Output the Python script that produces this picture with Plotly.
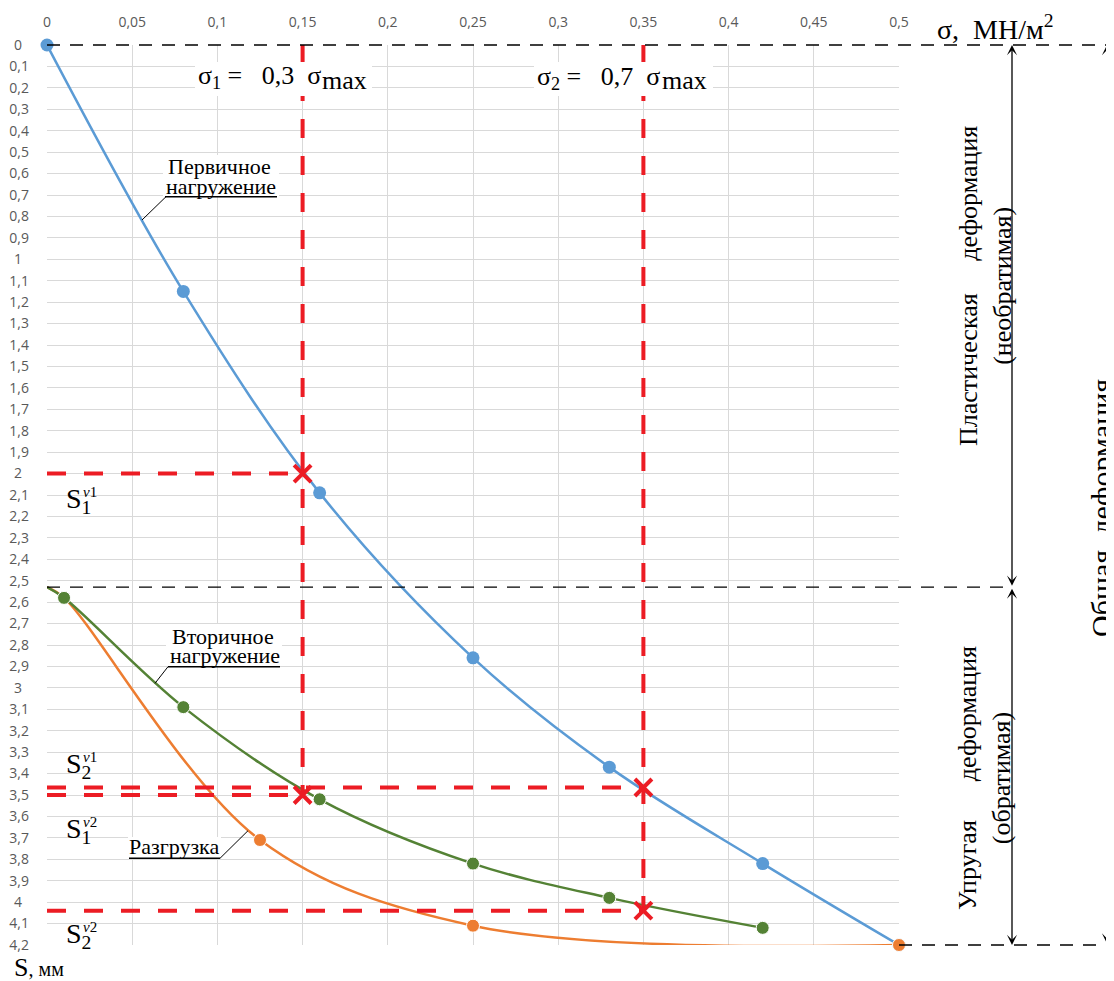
import plotly.graph_objects as go

# ---------------- data ----------------
x_tick_vals = [0, 0.05, 0.1, 0.15, 0.2, 0.25, 0.3, 0.35, 0.4, 0.45, 0.5]
x_tick_text = ["0", "0,05", "0,1", "0,15", "0,2", "0,25", "0,3", "0,35", "0,4", "0,45", "0,5"]
y_tick_vals = [round(i * 0.1, 1) for i in range(43)]
y_tick_text = [(f"{v:g}".replace(".", ",") if v != int(v) else f"{int(v)}\u2002") for v in y_tick_vals]

# primary loading (Первичное нагружение)
primary_sigma = [0, 0.08, 0.16, 0.25, 0.33, 0.42, 0.5]
primary_s = [0, 1.15, 2.09, 2.86, 3.37, 3.82, 4.2]

# secondary loading (Вторичное нагружение)
secondary_sigma = [0, 0.01, 0.08, 0.16, 0.25, 0.33, 0.42]
secondary_s = [2.53, 2.58, 3.09, 3.52, 3.82, 3.98, 4.12]
secondary_marker = [0, 13, 13, 13, 13, 13, 13]

# unloading (Разгрузка)
unload_sigma = [0, 0.01, 0.125, 0.25, 0.5]
unload_s = [2.53, 2.58, 3.71, 4.11, 4.2]
unload_marker = [0, 0, 13, 13, 13]

# reference levels
sigma_1 = 0.15   # 0.3 sigma_max
sigma_2 = 0.35   # 0.7 sigma_max
s1_nu1 = 2.0
s2_nu1 = 3.465
s1_nu2 = 3.50
s2_nu2 = 4.04
s_plastic = 2.53
s_total = 4.2
sigma_end = 0.5

# ---------------- layout geometry ----------------
OFF = 8                      # page offset of the figure (body margin)
FW, FH = 1114, 981
PL, PT = 47, 45              # plot area left/top in page pixels
W, H = 852, 900              # plot area size
L, T = PL - OFF, PT - OFF
R = FW - L - W
B = FH - T - H
XR = [0, sigma_end]
YR = [s_total, 0]


def px_x(px):      # page px -> paper x
    return (px - PL) / W


def px_y(py):      # page px -> paper y
    return 1 - (py - PT) / H


def dx(px):        # page px -> data x
    return (px - PL) / W * (XR[1] - XR[0])


def dy(py):        # page px -> data y
    return (py - PT) / H * s_total


def yp(v):
    return 1 - v / s_total


BLUE = "#5B9BD5"
GREEN = "#548235"
ORANGE = "#ED7D31"
RED = "#EC1C24"
SERIF = "Liberation Serif"
NB = "\u00a0"

fig = go.Figure()

fig.add_trace(go.Scatter(
    x=primary_sigma, y=primary_s, mode="lines+markers",
    line=dict(color=BLUE, width=2.5, shape="spline", smoothing=1.0),
    marker=dict(color=BLUE, size=13, opacity=1), cliponaxis=False))
fig.add_trace(go.Scatter(
    x=unload_sigma, y=unload_s, mode="lines+markers",
    line=dict(color=ORANGE, width=2.5, shape="spline", smoothing=1.0),
    marker=dict(color=ORANGE, size=unload_marker, opacity=1), cliponaxis=False))
fig.add_trace(go.Scatter(
    x=secondary_sigma, y=secondary_s, mode="lines+markers",
    line=dict(color=GREEN, width=2.5, shape="spline", smoothing=1.0),
    marker=dict(color=GREEN, size=secondary_marker, opacity=1), cliponaxis=False))

# red dashed construction lines
red_segments = [
    ([0, sigma_1], [s1_nu1, s1_nu1]),
    ([0, sigma_1], [s1_nu2, s1_nu2]),
    ([0, sigma_2], [s2_nu1, s2_nu1]),
    ([0, sigma_2], [s2_nu2, s2_nu2]),
    ([sigma_1, sigma_1], [0, s1_nu2]),
    ([sigma_2, sigma_2], [0, s2_nu2]),
]
for xs, ys in red_segments:
    fig.add_trace(go.Scatter(x=xs, y=ys, mode="lines",
                             line=dict(color=RED, width=4, dash="19px,18px")))

# red cross markers
fig.add_trace(go.Scatter(
    x=[sigma_1, sigma_1, sigma_2, sigma_2],
    y=[s1_nu1, s1_nu2, s2_nu1, s2_nu2],
    mode="markers",
    marker=dict(symbol="x-thin", size=17, line=dict(color=RED, width=4)),
    cliponaxis=False))

shapes = []

# white text boxes (hide grid / dashed lines behind labels)
def white_box(x0, x1, y0, y1):
    shapes.append(dict(type="rect", xref="x", yref="y", x0=dx(x0), x1=dx(x1),
                       y0=dy(y0), y1=dy(y1), fillcolor="white",
                       line=dict(width=0), layer="above"))

white_box(195, 372, 62, 96)
white_box(534, 713, 62, 96)
white_box(163, 279, 155, 196)
white_box(166, 282, 624, 666)
white_box(128, 221, 837, 858)

# black dashed horizontal lines
dash_black = dict(color="black", width=1.3, dash="13px,10px")
shapes.append(dict(type="line", xref="paper", yref="paper", x0=0, x1=px_x(FW + 20),
                   y0=yp(0), y1=yp(0), line=dash_black))
shapes.append(dict(type="line", xref="paper", yref="paper", x0=0, x1=px_x(1012),
                   y0=yp(s_plastic), y1=yp(s_plastic), line=dash_black))
shapes.append(dict(type="line", xref="paper", yref="paper", x0=1, x1=px_x(FW + 20),
                   y0=yp(s_total), y1=yp(s_total), line=dash_black))

# callout underlines + leaders
def callout(ux0, ux1, uy, lx, ly, lx0):
    shapes.append(dict(type="line", xref="x", yref="y", x0=dx(ux0), x1=dx(ux1),
                       y0=dy(uy), y1=dy(uy), line=dict(color="black", width=1.5),
                       layer="above"))
    shapes.append(dict(type="line", xref="x", yref="y", x0=dx(lx0), x1=dx(lx),
                       y0=dy(uy), y1=dy(ly), line=dict(color="black", width=1),
                       layer="above"))

callout(165, 277, 196.7, 142, 220, 166)
callout(168, 280, 666.7, 155, 683.3, 168)
callout(129, 220, 858.3, 248, 830.7, 220)

annotations = []


def txt(text, x, y, size, xref="x", yref="y", xanchor="center", yanchor="middle",
        angle=0, color="black"):
    annotations.append(dict(text=text, x=x, y=y, xref=xref, yref=yref,
                            xanchor=xanchor, yanchor=yanchor, showarrow=False,
                            borderpad=0, textangle=angle,
                            font=dict(family=SERIF, size=size, color=color)))


# sigma labels
txt(f"σ<sub>1</sub>{NB}={NB*3}0,3{NB*2}σ", dx(197), dy(76.5), 26, xanchor="left")
txt("max", dx(321), dy(80.5), 26, xanchor="left")
txt(f"σ<sub>2</sub>{NB}={NB*3}0,7{NB*2}σ", dx(536), dy(78), 26, xanchor="left")
txt("max", dx(661), dy(80.5), 26, xanchor="left")

# axis titles
txt(f"σ,{NB*2}МН/м<sup>2</sup>", px_x(936), px_y(28), 28, xref="paper", yref="paper",
    xanchor="left")
txt("S<span style='font-size:20px'>, мм</span>", px_x(13), px_y(967), 26,
    xref="paper", yref="paper", xanchor="left")

# callout texts
txt("Первичное", dx(219), dy(166), 22)
txt("нагружение", dx(220.5), dy(186), 22)
txt("Вторичное", dx(222.5), dy(636), 22)
txt("нагружение", dx(224.5), dy(655), 22)
txt("Разгрузка", dx(174), dy(846), 22)

# S labels
for s_sub, sup, ys in [("1", "1", 500), ("2", "1", 765), ("1", "2", 830), ("2", "2", 935)]:
    txt(f"S<sub>{s_sub}</sub>", dx(65), dy(ys), 28, xanchor="left")
    txt(f"<i>ν</i>{sup}", dx(82), dy(ys - 8), 15, xanchor="left")

# right side texts
txt(f"Пластическая{NB*5}деформация<br>(необратимая)", px_x(985), px_y(286), 26,
    xref="paper", yref="paper", angle=-90)
txt(f"Упругая{NB*6}деформация<br>(обратимая)", px_x(984), px_y(778), 26,
    xref="paper", yref="paper", angle=-90)
txt(f"Общая{NB*2}деформация", px_x(1101), px_y(508), 30,
    xref="paper", yref="paper", angle=-90)

# right side arrows
for xpx, y_head, y_tail in [(1012, 0, s_plastic), (1012, s_total, s_plastic), (1107, 0, s_total)]:
    annotations.append(dict(text="", x=px_x(xpx), xref="paper", y=y_head, yref="y",
                            ax=0, axref="pixel", ay=y_tail, ayref="y",
                            showarrow=True, arrowside="end+start", arrowhead=3,
                            arrowsize=1.3, arrowwidth=1.3, arrowcolor="black"))

fig.update_layout(
    width=FW, height=FH,
    margin=dict(l=L, r=R, t=T, b=B, autoexpand=False),
    paper_bgcolor="white", plot_bgcolor="white",
    showlegend=False,
    shapes=shapes, annotations=annotations,
    xaxis=dict(range=XR, side="top", tickvals=x_tick_vals, ticktext=x_tick_text,
               showgrid=True, gridcolor="#D9D9D9", gridwidth=1, zeroline=False,
               showline=False, ticks="", ticklabelstandoff=14, automargin=False,
               tickfont=dict(family="Open Sans", size=14, color="#595959")),
    yaxis=dict(range=YR, tickvals=y_tick_vals, ticktext=y_tick_text,
               showgrid=True, gridcolor="#D9D9D9", gridwidth=1, zeroline=False,
               showline=False, ticks="", ticklabelstandoff=17, automargin=False,
               tickfont=dict(family="Open Sans", size=14, color="#595959")),
)

fig.write_html("out.html")
